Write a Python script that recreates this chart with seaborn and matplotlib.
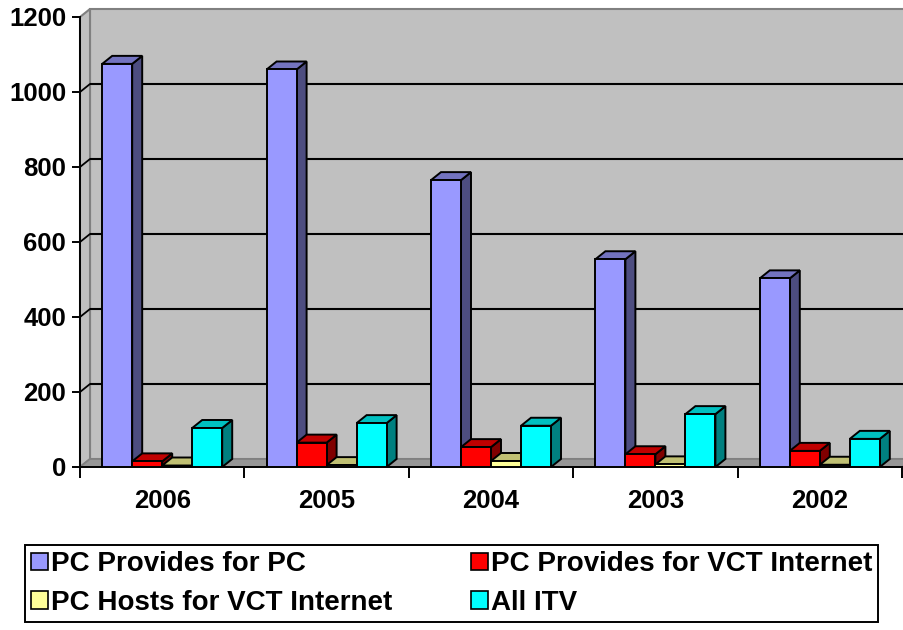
import matplotlib
matplotlib.use('Agg')
import matplotlib.pyplot as plt
import seaborn as sns
import pandas as pd
from matplotlib.patches import Polygon, Patch

# values
years = ['2006', '2005', '2004', '2003', '2002']
series_names = ['PC Provides for PC', 'PC Provides for VCT Internet',
                'PC Hosts for VCT Internet', 'All ITV']
pc_for_pc = [1075, 1060, 765, 554, 503]
pc_for_vct = [15, 65, 53, 34, 43]
pc_hosts_vct = [4, 5, 16, 7, 6]
all_itv = [104, 117, 110, 141, 75]
y_ticks = [0, 200, 400, 600, 800, 1000, 1200]

front_colors = ['#9999FF', '#FF0000', '#FFFF99', '#00FFFF']
top_colors = ['#7373BF', '#C00000', '#C0C073', '#00C0C0']
side_colors = ['#4D4D80', '#800000', '#80804D', '#008080']

df = pd.DataFrame({
    'Year': years * 4,
    'Series': [s for s in series_names for _ in years],
    'Value': pc_for_pc + pc_for_vct + pc_hosts_vct + all_itv,
})

sns.set_style('white')
plt.rcParams['font.family'] = ['Liberation Sans', 'DejaVu Sans']
plt.rcParams['font.weight'] = 'bold'
plt.rcParams['text.color'] = 'black'
plt.rcParams['xtick.color'] = 'black'
plt.rcParams['ytick.color'] = 'black'
FS = 18.5
LEG_FS = 20

fig = plt.figure(figsize=(9.04, 6.3), dpi=100)
ax = fig.add_axes([80 / 904, 163 / 630, 822 / 904, 450 / 630])

sns.barplot(data=df, x='Year', y='Value', hue='Series', palette=front_colors,
            width=0.73, saturation=1, edgecolor='black', linewidth=1.4,
            legend=False, ax=ax)
ax.set_xlim(-0.5, 4.5)
ax.set_ylim(0, 1200)
ax.set_xlabel('')
ax.set_ylabel('')
ax.patch.set_visible(False)

# depth of the fake 3d view, 10px right and 8px up, in data units
dx = 10 / (822 / 5)
dy = 8 / (450 / 1200)
x0, x1 = -0.5, 4.5

# walls and floor
ax.add_patch(Polygon([(x0 + dx, dy), (x1 + dx, dy), (x1 + dx, 1200 + dy), (x0 + dx, 1200 + dy)],
                     closed=True, fc='#C0C0C0', ec='#808080', lw=1.5, zorder=0.5, clip_on=False))
ax.add_patch(Polygon([(x0, 0), (x0 + dx, dy), (x0 + dx, 1200 + dy), (x0, 1200)],
                     closed=True, fc='#C0C0C0', ec='#808080', lw=1.5, zorder=0.6, clip_on=False))
ax.add_patch(Polygon([(x0, 0), (x1, 0), (x1 + dx, dy), (x0 + dx, dy)],
                     closed=True, fc='#969696', ec='#808080', lw=1.2, zorder=0.7, clip_on=False))
for t in y_ticks[1:-1]:
    ax.plot([x0 + dx, x1 + dx], [t + dy, t + dy], color='black', lw=1.5,
            zorder=0.8, clip_on=False, solid_capstyle='butt')
    ax.plot([x0, x0 + dx], [t, t + dy], color='black', lw=1.3, zorder=0.8, clip_on=False)

# top and side faces for each bar
for i, cont in enumerate(ax.containers):
    for j, bar in enumerate(cont):
        bx0 = bar.get_x()
        bx1 = bx0 + bar.get_width()
        h = bar.get_height()
        z = 10 + j * 10 + i * 2
        ax.add_patch(Polygon([(bx1, 0), (bx1 + dx, dy), (bx1 + dx, h + dy), (bx1, h)],
                             closed=True, fc=side_colors[i], ec='black', lw=1.4, zorder=z))
        ax.add_patch(Polygon([(bx0, h), (bx1, h), (bx1 + dx, h + dy), (bx0 + dx, h + dy)],
                             closed=True, fc=top_colors[i], ec='black', lw=1.4, zorder=z))
        bar.set_zorder(z + 1)

# axes lines and ticks
for side in ['top', 'right']:
    ax.spines[side].set_visible(False)
for side in ['left', 'bottom']:
    ax.spines[side].set_color('black')
    ax.spines[side].set_linewidth(1.4)
    ax.spines[side].set_zorder(5)

ax.set_yticks(y_ticks)
ax.set_yticklabels([str(t) for t in y_ticks])
ax.set_xticks([k - 0.5 for k in range(len(years) + 1)])
ax.set_xticklabels([])
ax.set_xticks(range(len(years)), minor=True)
ax.set_xticklabels(years, minor=True)
ax.tick_params(axis='y', left=True, length=6, width=1.4, color='black', pad=4,
               labelsize=FS, labelcolor='black')
ax.tick_params(axis='x', which='major', bottom=True, length=8, width=1.4, color='black')
ax.tick_params(axis='x', which='minor', bottom=True, length=0, pad=16,
               labelsize=FS, labelcolor='black')
for lab in ax.get_xticklabels(minor=True) + ax.get_yticklabels():
    lab.set_fontweight('bold')

# legend, two columns
order = [0, 2, 1, 3]
handles = [Patch(fc=front_colors[k], ec='black', lw=1.2) for k in order]
labels = [series_names[k] for k in order]
leg = fig.legend(handles, labels, loc='upper left', ncol=2, mode='expand',
                 bbox_to_anchor=(25 / 904, 1 - 621 / 630, 853 / 904, 76 / 630),
                 prop={'size': LEG_FS, 'weight': 'bold'}, frameon=True, fancybox=False,
                 framealpha=1, handlelength=0.6, handleheight=0.6, handletextpad=0.1,
                 labelspacing=0.45, borderpad=0.22, borderaxespad=0)
leg.get_frame().set_edgecolor('black')
leg.get_frame().set_linewidth(1.4)

fig.savefig('out.png', dpi=100, facecolor='white')
